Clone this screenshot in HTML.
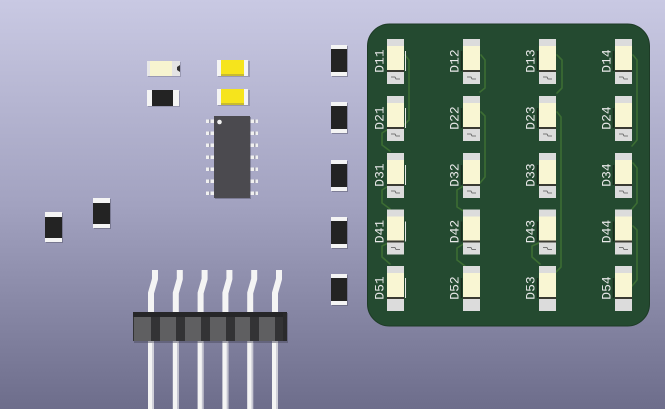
<!DOCTYPE html>
<html>
<head>
<meta charset="utf-8">
<style>
  html,body{margin:0;padding:0;}
  body{width:665px;height:409px;overflow:hidden;}
  svg{display:block;}
  text{font-family:"Liberation Mono","DejaVu Sans Mono",monospace;}
</style>
</head>
<body>
<svg width="665" height="409" viewBox="0 0 665 409" xmlns="http://www.w3.org/2000/svg">
  <defs>
    <linearGradient id="bg" x1="0" y1="0" x2="0" y2="1">
      <stop offset="0" stop-color="#c9c9e3"/>
      <stop offset="0.5" stop-color="#a2a2c0"/>
      <stop offset="1" stop-color="#6d6d8b"/>
    </linearGradient>
  </defs>
  <rect x="0" y="0" width="665" height="409" fill="url(#bg)"/>

  <!-- PCB board -->
  <rect x="367.5" y="24" width="282" height="302" rx="22" ry="22" fill="#244a30" stroke="#1d3a26" stroke-width="1"/>

  <!-- traces -->
  <g fill="none" stroke="#3c6d33" stroke-width="1.6" stroke-linejoin="round" stroke-linecap="round">
    <!-- column 1 -->
    <path d="M405,55 L409,60 L409,120 L401,128"/>
    <path d="M390,128 L382,133 L382,145 L390,151"/>
    <path d="M390,185 L382,190 L382,203 L390,209"/>
    <path d="M390,242 L382,246 L382,257 L390,264"/>
    <!-- column 2 -->
    <path d="M481,55 L485,60 L485,88 L480,92"/>
    <path d="M481,112 L485,116 L485,177 L480,183"/>
    <path d="M465,185 L457,190 L457,207 L465,212"/>
    <path d="M465,243 L457,248 L457,260 L465,266"/>
    <!-- column 3 -->
    <path d="M557,55 L562,60 L562,88 L557,93"/>
    <path d="M557,112 L561,117 L561,267 L556,272"/>
    <path d="M541,242 L532,246 L532,257 L540,264"/>
    <!-- column 4 -->
    <path d="M633,55 L637,60 L637,140 L632,146"/>
    <path d="M633,163 L637,168 L637,203 L632,209"/>
    <path d="M633,226 L637,230 L637,280 L632,286"/>
  </g>

  <!-- LEDs -->
  <g id="leds">
    <!-- generated manually: cols x = 387,463,539,615 ; rows y = 39,96,153,209,266 -->
  </g>

  <!-- Row 1 -->
  <g>
    <!-- D11 -->
    <rect x="387" y="39" width="17" height="45" fill="#dcdcdc"/>
    <rect x="387" y="46" width="17" height="24" fill="#f9f6d3"/>
    <rect x="387" y="70" width="17" height="2" fill="#3a3a32"/>
    <line x1="405.5" y1="51" x2="405.5" y2="71" stroke="#e6e6e6" stroke-width="1"/>
    <path d="M391,77 L395,77 L396,79 L400,79" stroke="#555" stroke-width="0.8" fill="none"/>
    <text transform="translate(380,61) rotate(-90)" text-anchor="middle" dominant-baseline="central" font-size="13" fill="#e8e8e8">D11</text>

    <rect x="463" y="39" width="17" height="45" fill="#dcdcdc"/>
    <rect x="463" y="46" width="17" height="24" fill="#f9f6d3"/>
    <rect x="463" y="70" width="17" height="2" fill="#3a3a32"/>
    <line x1="461.5" y1="51" x2="461.5" y2="71" stroke="#1a2a1c" stroke-width="1.5"/>
    <path d="M467,77 L471,77 L472,79 L476,79" stroke="#555" stroke-width="0.8" fill="none"/>
    <text transform="translate(455,61) rotate(-90)" text-anchor="middle" dominant-baseline="central" font-size="13" fill="#e8e8e8">D12</text>

    <rect x="539" y="39" width="17" height="45" fill="#dcdcdc"/>
    <rect x="539" y="46" width="17" height="24" fill="#f9f6d3"/>
    <rect x="539" y="70" width="17" height="2" fill="#3a3a32"/>
    <line x1="537.5" y1="51" x2="537.5" y2="71" stroke="#1a2a1c" stroke-width="1.5"/>
    <path d="M543,77 L547,77 L548,79 L552,79" stroke="#555" stroke-width="0.8" fill="none"/>
    <text transform="translate(531,61) rotate(-90)" text-anchor="middle" dominant-baseline="central" font-size="13" fill="#e8e8e8">D13</text>

    <rect x="615" y="39" width="17" height="45" fill="#dcdcdc"/>
    <rect x="615" y="46" width="17" height="24" fill="#f9f6d3"/>
    <rect x="615" y="70" width="17" height="2" fill="#3a3a32"/>
    <line x1="613.5" y1="51" x2="613.5" y2="71" stroke="#1a2a1c" stroke-width="1.5"/>
    <path d="M619,77 L623,77 L624,79 L628,79" stroke="#555" stroke-width="0.8" fill="none"/>
    <text transform="translate(607,61) rotate(-90)" text-anchor="middle" dominant-baseline="central" font-size="13" fill="#e8e8e8">D14</text>
  </g>

  <!-- Row 2 -->
  <g transform="translate(0,57)">
    <rect x="387" y="39" width="17" height="45" fill="#dcdcdc"/>
    <rect x="387" y="46" width="17" height="24" fill="#f9f6d3"/>
    <rect x="387" y="70" width="17" height="2" fill="#3a3a32"/>
    <line x1="405.5" y1="51" x2="405.5" y2="71" stroke="#e6e6e6" stroke-width="1"/>
    <path d="M391,77 L395,77 L396,79 L400,79" stroke="#555" stroke-width="0.8" fill="none"/>
    <text transform="translate(380,61) rotate(-90)" text-anchor="middle" dominant-baseline="central" font-size="13" fill="#e8e8e8">D21</text>

    <rect x="463" y="39" width="17" height="45" fill="#dcdcdc"/>
    <rect x="463" y="46" width="17" height="24" fill="#f9f6d3"/>
    <rect x="463" y="70" width="17" height="2" fill="#3a3a32"/>
    <line x1="461.5" y1="51" x2="461.5" y2="71" stroke="#1a2a1c" stroke-width="1.5"/>
    <path d="M467,77 L471,77 L472,79 L476,79" stroke="#555" stroke-width="0.8" fill="none"/>
    <text transform="translate(455,61) rotate(-90)" text-anchor="middle" dominant-baseline="central" font-size="13" fill="#e8e8e8">D22</text>

    <rect x="539" y="39" width="17" height="45" fill="#dcdcdc"/>
    <rect x="539" y="46" width="17" height="24" fill="#f9f6d3"/>
    <rect x="539" y="70" width="17" height="2" fill="#3a3a32"/>
    <line x1="537.5" y1="51" x2="537.5" y2="71" stroke="#1a2a1c" stroke-width="1.5"/>
    <path d="M543,77 L547,77 L548,79 L552,79" stroke="#555" stroke-width="0.8" fill="none"/>
    <text transform="translate(531,61) rotate(-90)" text-anchor="middle" dominant-baseline="central" font-size="13" fill="#e8e8e8">D23</text>

    <rect x="615" y="39" width="17" height="45" fill="#dcdcdc"/>
    <rect x="615" y="46" width="17" height="24" fill="#f9f6d3"/>
    <rect x="615" y="70" width="17" height="2" fill="#3a3a32"/>
    <line x1="613.5" y1="51" x2="613.5" y2="71" stroke="#1a2a1c" stroke-width="1.5"/>
    <path d="M619,77 L623,77 L624,79 L628,79" stroke="#555" stroke-width="0.8" fill="none"/>
    <text transform="translate(607,61) rotate(-90)" text-anchor="middle" dominant-baseline="central" font-size="13" fill="#e8e8e8">D24</text>
  </g>

  <!-- Row 3 -->
  <g transform="translate(0,114)">
    <rect x="387" y="39" width="17" height="45" fill="#dcdcdc"/>
    <rect x="387" y="46" width="17" height="24" fill="#f9f6d3"/>
    <rect x="387" y="70" width="17" height="2" fill="#3a3a32"/>
    <line x1="405.5" y1="51" x2="405.5" y2="71" stroke="#e6e6e6" stroke-width="1"/>
    <path d="M391,77 L395,77 L396,79 L400,79" stroke="#555" stroke-width="0.8" fill="none"/>
    <text transform="translate(380,61) rotate(-90)" text-anchor="middle" dominant-baseline="central" font-size="13" fill="#e8e8e8">D31</text>

    <rect x="463" y="39" width="17" height="45" fill="#dcdcdc"/>
    <rect x="463" y="46" width="17" height="24" fill="#f9f6d3"/>
    <rect x="463" y="70" width="17" height="2" fill="#3a3a32"/>
    <line x1="461.5" y1="51" x2="461.5" y2="71" stroke="#1a2a1c" stroke-width="1.5"/>
    <path d="M467,77 L471,77 L472,79 L476,79" stroke="#555" stroke-width="0.8" fill="none"/>
    <text transform="translate(455,61) rotate(-90)" text-anchor="middle" dominant-baseline="central" font-size="13" fill="#e8e8e8">D32</text>

    <rect x="539" y="39" width="17" height="45" fill="#dcdcdc"/>
    <rect x="539" y="46" width="17" height="24" fill="#f9f6d3"/>
    <rect x="539" y="70" width="17" height="2" fill="#3a3a32"/>
    <line x1="537.5" y1="51" x2="537.5" y2="71" stroke="#1a2a1c" stroke-width="1.5"/>
    <path d="M543,77 L547,77 L548,79 L552,79" stroke="#555" stroke-width="0.8" fill="none"/>
    <text transform="translate(531,61) rotate(-90)" text-anchor="middle" dominant-baseline="central" font-size="13" fill="#e8e8e8">D33</text>

    <rect x="615" y="39" width="17" height="45" fill="#dcdcdc"/>
    <rect x="615" y="46" width="17" height="24" fill="#f9f6d3"/>
    <rect x="615" y="70" width="17" height="2" fill="#3a3a32"/>
    <line x1="613.5" y1="51" x2="613.5" y2="71" stroke="#1a2a1c" stroke-width="1.5"/>
    <path d="M619,77 L623,77 L624,79 L628,79" stroke="#555" stroke-width="0.8" fill="none"/>
    <text transform="translate(607,61) rotate(-90)" text-anchor="middle" dominant-baseline="central" font-size="13" fill="#e8e8e8">D34</text>
  </g>

  <!-- Row 4 -->
  <g transform="translate(0,170.5)">
    <rect x="387" y="39" width="17" height="45" fill="#dcdcdc"/>
    <rect x="387" y="46" width="17" height="24" fill="#f9f6d3"/>
    <rect x="387" y="70" width="17" height="2" fill="#3a3a32"/>
    <line x1="405.5" y1="51" x2="405.5" y2="71" stroke="#e6e6e6" stroke-width="1"/>
    <path d="M391,77 L395,77 L396,79 L400,79" stroke="#555" stroke-width="0.8" fill="none"/>
    <text transform="translate(380,61) rotate(-90)" text-anchor="middle" dominant-baseline="central" font-size="13" fill="#e8e8e8">D41</text>

    <rect x="463" y="39" width="17" height="45" fill="#dcdcdc"/>
    <rect x="463" y="46" width="17" height="24" fill="#f9f6d3"/>
    <rect x="463" y="70" width="17" height="2" fill="#3a3a32"/>
    <line x1="461.5" y1="51" x2="461.5" y2="71" stroke="#1a2a1c" stroke-width="1.5"/>
    <path d="M467,77 L471,77 L472,79 L476,79" stroke="#555" stroke-width="0.8" fill="none"/>
    <text transform="translate(455,61) rotate(-90)" text-anchor="middle" dominant-baseline="central" font-size="13" fill="#e8e8e8">D42</text>

    <rect x="539" y="39" width="17" height="45" fill="#dcdcdc"/>
    <rect x="539" y="46" width="17" height="24" fill="#f9f6d3"/>
    <rect x="539" y="70" width="17" height="2" fill="#3a3a32"/>
    <line x1="537.5" y1="51" x2="537.5" y2="71" stroke="#1a2a1c" stroke-width="1.5"/>
    <path d="M543,77 L547,77 L548,79 L552,79" stroke="#555" stroke-width="0.8" fill="none"/>
    <text transform="translate(531,61) rotate(-90)" text-anchor="middle" dominant-baseline="central" font-size="13" fill="#e8e8e8">D43</text>

    <rect x="615" y="39" width="17" height="45" fill="#dcdcdc"/>
    <rect x="615" y="46" width="17" height="24" fill="#f9f6d3"/>
    <rect x="615" y="70" width="17" height="2" fill="#3a3a32"/>
    <line x1="613.5" y1="51" x2="613.5" y2="71" stroke="#1a2a1c" stroke-width="1.5"/>
    <path d="M619,77 L623,77 L624,79 L628,79" stroke="#555" stroke-width="0.8" fill="none"/>
    <text transform="translate(607,61) rotate(-90)" text-anchor="middle" dominant-baseline="central" font-size="13" fill="#e8e8e8">D44</text>
  </g>

  <!-- Row 5 -->
  <g transform="translate(0,227)">
    <rect x="387" y="39" width="17" height="45" fill="#dcdcdc"/>
    <rect x="387" y="46" width="17" height="24" fill="#f9f6d3"/>
    <rect x="387" y="70" width="17" height="2" fill="#3a3a32"/>
    <line x1="405.5" y1="51" x2="405.5" y2="71" stroke="#e6e6e6" stroke-width="1"/>
    <text transform="translate(380,61) rotate(-90)" text-anchor="middle" dominant-baseline="central" font-size="13" fill="#e8e8e8">D51</text>

    <rect x="463" y="39" width="17" height="45" fill="#dcdcdc"/>
    <rect x="463" y="46" width="17" height="24" fill="#f9f6d3"/>
    <rect x="463" y="70" width="17" height="2" fill="#3a3a32"/>
    <line x1="461.5" y1="51" x2="461.5" y2="71" stroke="#1a2a1c" stroke-width="1.5"/>
    <text transform="translate(455,61) rotate(-90)" text-anchor="middle" dominant-baseline="central" font-size="13" fill="#e8e8e8">D52</text>

    <rect x="539" y="39" width="17" height="45" fill="#dcdcdc"/>
    <rect x="539" y="46" width="17" height="24" fill="#f9f6d3"/>
    <rect x="539" y="70" width="17" height="2" fill="#3a3a32"/>
    <line x1="537.5" y1="51" x2="537.5" y2="71" stroke="#1a2a1c" stroke-width="1.5"/>
    <text transform="translate(531,61) rotate(-90)" text-anchor="middle" dominant-baseline="central" font-size="13" fill="#e8e8e8">D53</text>

    <rect x="615" y="39" width="17" height="45" fill="#dcdcdc"/>
    <rect x="615" y="46" width="17" height="24" fill="#f9f6d3"/>
    <rect x="615" y="70" width="17" height="2" fill="#3a3a32"/>
    <line x1="613.5" y1="51" x2="613.5" y2="71" stroke="#1a2a1c" stroke-width="1.5"/>
    <text transform="translate(607,61) rotate(-90)" text-anchor="middle" dominant-baseline="central" font-size="13" fill="#e8e8e8">D54</text>
  </g>

  <!-- Vertical resistors column (x 331-347) -->
  <g>
    <g>
      <rect x="332" y="46" width="16" height="31" fill="#55556a" opacity="0.5"/>
      <rect x="331" y="45" width="16" height="31" fill="#f4f4f4"/>
      <rect x="331" y="49" width="16" height="23" fill="#232323"/>
    </g>
    <g transform="translate(0,57)">
      <rect x="332" y="46" width="16" height="31" fill="#55556a" opacity="0.5"/>
      <rect x="331" y="45" width="16" height="31" fill="#f4f4f4"/>
      <rect x="331" y="49" width="16" height="23" fill="#232323"/>
    </g>
    <g transform="translate(0,115)">
      <rect x="332" y="46" width="16" height="31" fill="#55556a" opacity="0.5"/>
      <rect x="331" y="45" width="16" height="31" fill="#f4f4f4"/>
      <rect x="331" y="49" width="16" height="23" fill="#232323"/>
    </g>
    <g transform="translate(0,172)">
      <rect x="332" y="46" width="16" height="31" fill="#55556a" opacity="0.5"/>
      <rect x="331" y="45" width="16" height="31" fill="#f4f4f4"/>
      <rect x="331" y="49" width="16" height="23" fill="#232323"/>
    </g>
    <g transform="translate(0,229)">
      <rect x="332" y="46" width="16" height="31" fill="#55556a" opacity="0.5"/>
      <rect x="331" y="45" width="16" height="31" fill="#f4f4f4"/>
      <rect x="331" y="49" width="16" height="23" fill="#232323"/>
    </g>
  </g>

  <!-- Left vertical resistors -->
  <g>
    <rect x="46" y="213" width="17" height="30" fill="#55556a" opacity="0.5"/>
    <rect x="45" y="212" width="17" height="30" fill="#f4f4f4"/>
    <rect x="45" y="217" width="17" height="21" fill="#232323"/>
    <rect x="94" y="199" width="17" height="30" fill="#55556a" opacity="0.5"/>
    <rect x="93" y="198" width="17" height="30" fill="#f4f4f4"/>
    <rect x="93" y="203" width="17" height="21" fill="#232323"/>
  </g>

  <!-- Top small parts -->
  <g>
    <!-- cream LED-like part -->
    <rect x="148" y="62" width="33" height="15" fill="#6a6a80" opacity="0.4"/>
    <rect x="147" y="61" width="25" height="15" fill="#f7f4d0"/>
    <rect x="147" y="61" width="3" height="15" fill="#e8e8e8"/>
    <rect x="172" y="61" width="8" height="15" fill="#e4e4e4"/>
    <path d="M180,65 L177,67 L177,70 L180,72 Z" fill="#333"/>
    <!-- black resistor -->
    <rect x="148" y="91" width="32" height="16" fill="#6a6a80" opacity="0.4"/>
    <rect x="147" y="90" width="32" height="16" fill="#f4f4f4"/>
    <rect x="152" y="90" width="21" height="16" fill="#232323"/>
    <!-- yellow parts -->
    <rect x="218" y="61" width="32" height="16" fill="#6a6a80" opacity="0.4"/>
    <rect x="217" y="60" width="31" height="16" fill="#f4f4f4"/>
    <rect x="221" y="60" width="23" height="15" fill="#f6e41c"/>
    <rect x="221" y="74" width="23" height="2" fill="#c8bb30"/>
    <rect x="218" y="90" width="32" height="16" fill="#6a6a80" opacity="0.4"/>
    <rect x="217" y="89" width="31" height="16" fill="#f4f4f4"/>
    <rect x="221" y="89" width="23" height="15" fill="#f6e41c"/>
    <rect x="221" y="103" width="23" height="2" fill="#c8bb30"/>
  </g>

  <!-- IC -->
  <g>
    <g fill="#f0f0f0">
      <rect x="206" y="119.5" width="8" height="3.5"/>
      <rect x="206" y="131.5" width="8" height="3.5"/>
      <rect x="206" y="143.5" width="8" height="3.5"/>
      <rect x="206" y="155.5" width="8" height="3.5"/>
      <rect x="206" y="167.5" width="8" height="3.5"/>
      <rect x="206" y="179.5" width="8" height="3.5"/>
      <rect x="206" y="191.5" width="8" height="3.5"/>
      <rect x="250" y="119.5" width="8" height="3.5"/>
      <rect x="250" y="131.5" width="8" height="3.5"/>
      <rect x="250" y="143.5" width="8" height="3.5"/>
      <rect x="250" y="155.5" width="8" height="3.5"/>
      <rect x="250" y="167.5" width="8" height="3.5"/>
      <rect x="250" y="179.5" width="8" height="3.5"/>
      <rect x="250" y="191.5" width="8" height="3.5"/>
    </g>
    <g fill="#9a9aaa">
      <rect x="209" y="119.5" width="1.5" height="3.5"/>
      <rect x="209" y="131.5" width="1.5" height="3.5"/>
      <rect x="209" y="143.5" width="1.5" height="3.5"/>
      <rect x="209" y="155.5" width="1.5" height="3.5"/>
      <rect x="209" y="167.5" width="1.5" height="3.5"/>
      <rect x="209" y="179.5" width="1.5" height="3.5"/>
      <rect x="209" y="191.5" width="1.5" height="3.5"/>
      <rect x="254" y="119.5" width="1.5" height="3.5"/>
      <rect x="254" y="131.5" width="1.5" height="3.5"/>
      <rect x="254" y="143.5" width="1.5" height="3.5"/>
      <rect x="254" y="155.5" width="1.5" height="3.5"/>
      <rect x="254" y="167.5" width="1.5" height="3.5"/>
      <rect x="254" y="179.5" width="1.5" height="3.5"/>
      <rect x="254" y="191.5" width="1.5" height="3.5"/>
    </g>
    <rect x="215" y="117" width="36" height="82" fill="#55556a" opacity="0.5"/>
    <rect x="214" y="116" width="36" height="82" fill="#4b4a4f"/>
    <circle cx="219.5" cy="122" r="2.3" fill="#f0f0f0"/>
  </g>

  <!-- Pin header -->
  <g>
    <!-- pins (behind housing) -->
    <g fill="none" stroke="#f4f4f4" stroke-width="6" stroke-linejoin="round">
      <path d="M155,270 L155,279 L151,293 L151,409"/>
      <path d="M179.8,270 L179.8,279 L175.8,293 L175.8,409"/>
      <path d="M204.6,270 L204.6,279 L200.6,293 L200.6,409"/>
      <path d="M229.4,270 L229.4,279 L225.4,293 L225.4,409"/>
      <path d="M254.2,270 L254.2,279 L250.2,293 L250.2,409"/>
      <path d="M279,270 L279,279 L275,293 L275,409"/>
    </g>
    <g fill="none" stroke="#c4c4d0" stroke-width="1.5">
      <path d="M153,343 L153,409"/>
      <path d="M177.8,343 L177.8,409"/>
      <path d="M202.6,343 L202.6,409"/>
      <path d="M227.4,343 L227.4,409"/>
      <path d="M252.2,343 L252.2,409"/>
      <path d="M277,343 L277,409"/>
    </g>
    <!-- housing -->
    <rect x="134" y="313" width="154" height="30" fill="#4a4a5e" opacity="0.5"/>
    <rect x="133" y="312" width="154" height="29" fill="#333335"/>
    <rect x="133" y="312" width="154" height="5" fill="#262628"/>
    <g fill="#5f5f61">
      <rect x="134" y="317" width="17" height="24"/>
      <rect x="160" y="317" width="16" height="24"/>
      <rect x="185" y="317" width="16" height="24"/>
      <rect x="210" y="317" width="16" height="24"/>
      <rect x="235" y="317" width="15" height="24"/>
      <rect x="259" y="317" width="16" height="24"/>
    </g>
    <rect x="283" y="313" width="4" height="28" fill="#2a2a2c"/>
  </g>
</svg>
</body>
</html>
